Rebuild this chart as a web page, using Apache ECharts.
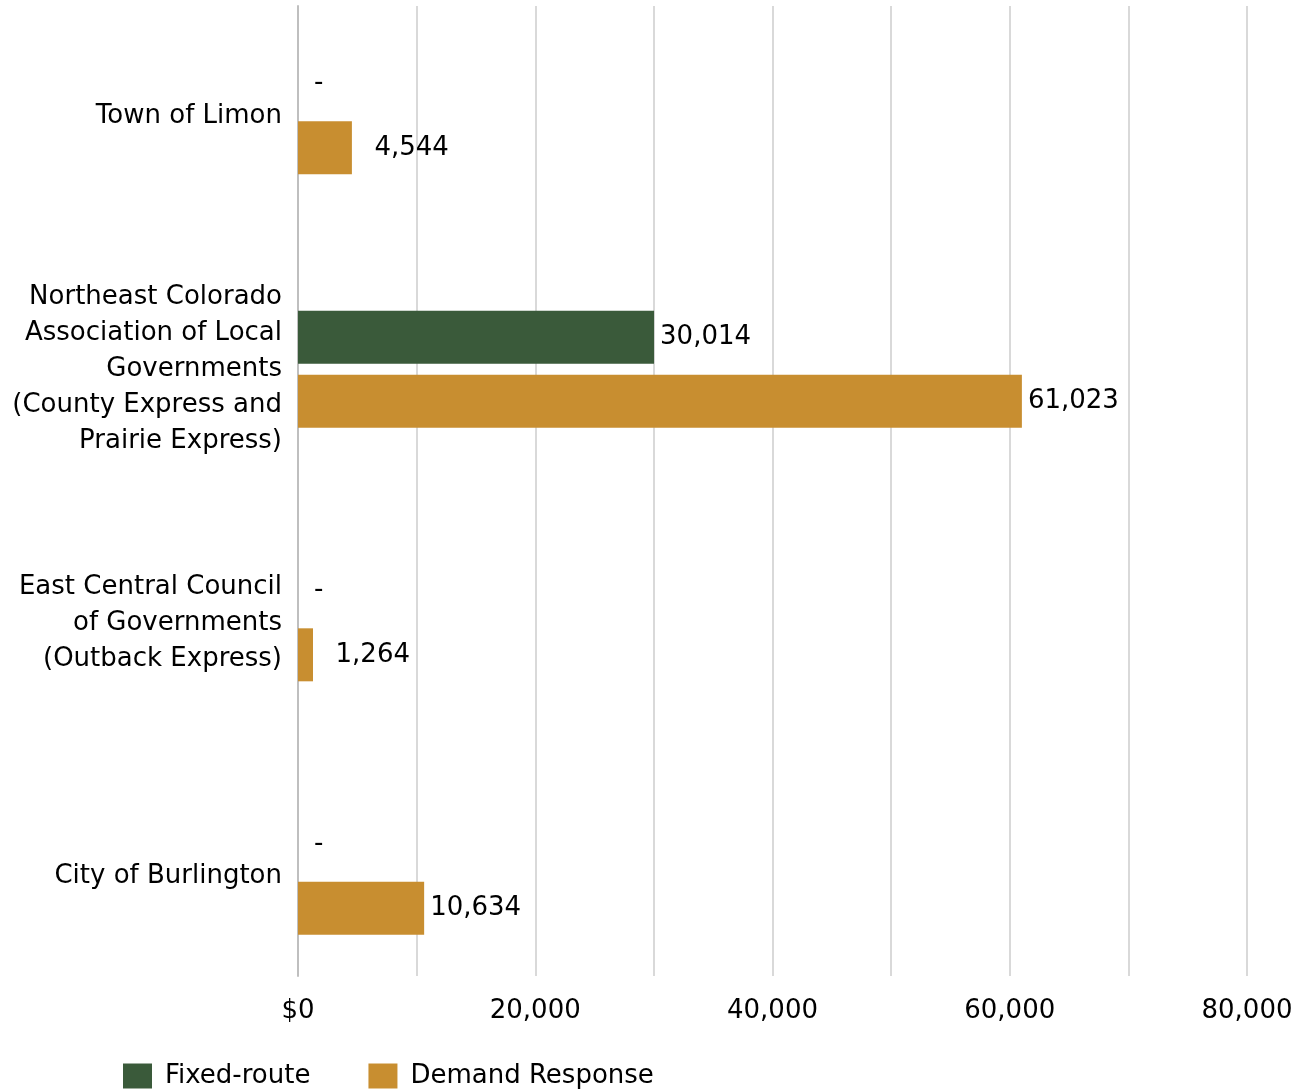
<!DOCTYPE html>
<html>
<head>
<meta charset="utf-8">
<script src="https://cdn.jsdelivr.net/npm/echarts@6/dist/echarts.min.js"></script>
<style>
html,body{margin:0;padding:0;background:#fff;}
#chart{width:1307px;height:1090px;}
</style>
</head>
<body>
<div id="chart"></div>
<script>
const categories = [
  'Town of Limon',
  'Northeast Colorado\nAssociation of Local\nGovernments\n(County Express and\nPrairie Express)',
  'East Central Council\nof Governments\n(Outback Express)',
  'City of Burlington'
];
const seriesNames = ['Fixed-route', 'Demand Response'];
const fixedRoute = [0, 30014, 0, 0];
const demandResponse = [4544, 61023, 1264, 10634];
const xMin = 0, xMax = 80000, xStep = 10000, xLabelStep = 20000;

const FONT = '"DejaVu Sans"';
const FS = 26;
const colors = ['#3A5A3A', '#C88E30'];

function toData(arr) {
  return arr.map(v => v === 0
    ? { value: v, label: { distance: 16, width: null, formatter: '-' } }
    : v);
}

const chart = echarts.init(document.getElementById('chart'), null, { renderer: 'canvas' });
const GL = 298, GW = 949;
const labelStyle = {
  show: true, position: 'right', distance: 7, width: 90,
  color: '#000', fontFamily: FONT, fontSize: FS,
  formatter: p => '{v|' + p.value.toLocaleString('en-US') + '}',
  rich: { v: { align: 'right', color: '#000', fontFamily: FONT, fontSize: FS } }
};

chart.setOption({
  animation: false,
  textStyle: { fontFamily: FONT },
  grid: [
    { left: GL, width: GW, top: -11, height: 1014, containLabel: false, outerBoundsMode: 'none' },
    { left: GL, width: GW, top: 6, height: 970, containLabel: false, outerBoundsMode: 'none' }
  ],
  xAxis: [
    { gridIndex: 0, type: 'value', min: xMin, max: xMax, interval: xStep,
      axisLine: { show: false }, axisTick: { show: false }, axisLabel: { show: false }, splitLine: { show: false } },
    { gridIndex: 1, type: 'value', min: xMin, max: xMax, interval: xStep,
      axisLine: { show: false }, axisTick: { show: false },
      axisLabel: { show: true, margin: 22, color: '#000', fontFamily: FONT, fontSize: FS, hideOverlap: false,
        formatter: v => v === 0 ? '$0' : (v % xLabelStep === 0 ? v.toLocaleString('en-US') : '') },
      splitLine: { show: true, lineStyle: { color: '#D9D9D9', width: 2 } } }
  ],
  yAxis: [
    { gridIndex: 0, type: 'category', data: categories, inverse: true,
      axisLine: { show: false }, axisTick: { show: false },
      axisLabel: { show: true, margin: 16, color: '#000', fontFamily: FONT, fontSize: FS, lineHeight: 36, align: 'right', interval: 0 },
      splitLine: { show: false } },
    { gridIndex: 1, type: 'category', data: categories, inverse: true,
      axisLine: { show: true, onZero: false, lineStyle: { color: '#BFBFBF', width: 2 } }, axisTick: { show: false },
      axisLabel: { show: false }, splitLine: { show: false } }
  ],
  legend: {
    left: 123, top: 1063, padding: 0, icon: 'rect', itemWidth: 29, itemHeight: 25, itemGap: 58,
    textStyle: { color: '#000', fontFamily: FONT, fontSize: FS, padding: [0, 0, 0, 8] },
    data: seriesNames
  },
  series: [
    { name: seriesNames[0], type: 'bar', xAxisIndex: 0, yAxisIndex: 0, data: toData(fixedRoute),
      barWidth: 53, barGap: '21%', itemStyle: { color: colors[0] }, label: labelStyle },
    { name: seriesNames[1], type: 'bar', xAxisIndex: 0, yAxisIndex: 0, data: toData(demandResponse),
      barWidth: 53, barGap: '21%', itemStyle: { color: colors[1] }, label: labelStyle }
  ]
});
</script>
</body>
</html>
